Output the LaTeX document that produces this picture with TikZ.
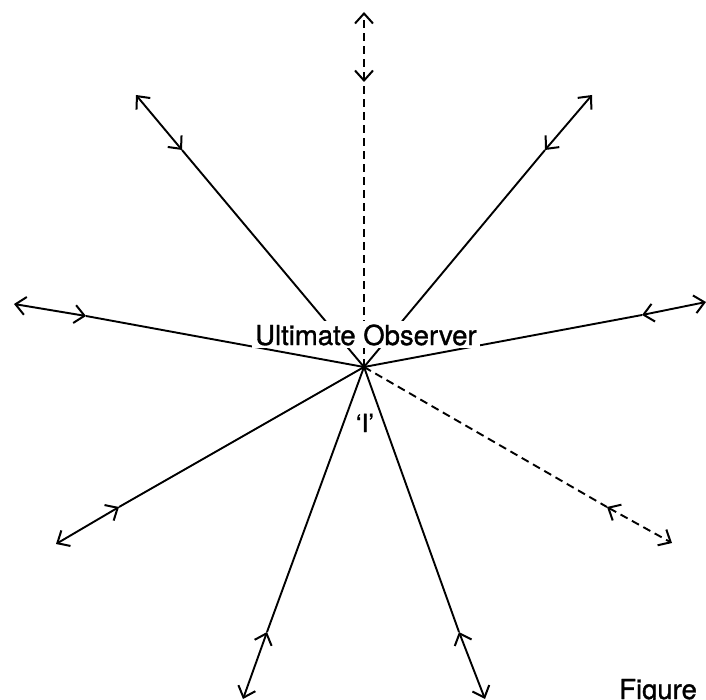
\documentclass[tikz,border=0pt]{standalone}
\usepackage{fontspec}
\setmainfont[FakeBold=1.2]{TeX Gyre Heros}
\usetikzlibrary{arrows.meta}
\begin{document}
\begin{tikzpicture}[x=1pt,y=-1pt,
  ray/.style={line width=1.9pt, black, line cap=butt},
  tipped/.style={ray, {Straight Barb[length=10pt,width=18pt,line width=2pt]}-{Straight Barb[length=10pt,width=18pt,line width=2pt]}},
  dashray/.style={dash pattern=on 8pt off 5pt},
  lbl/.style={font=\fontsize{27.5}{30}\selectfont, inner sep=3pt, fill=white},
  small/.style={font=\fontsize{25}{28}\selectfont, inner sep=0pt}]
\useasboundingbox (0,0) rectangle (706,700);
\coordinate (C) at (364,367);
% mid points and tips
\coordinate (mU) at (364,82);   \coordinate (tU) at (364,12);
\coordinate (mUL) at (182,150); \coordinate (tUL) at (136,95);
\coordinate (mUR) at (545,150); \coordinate (tUR) at (592,95);
\coordinate (mL) at (86,316);   \coordinate (tL) at (14,304);
\coordinate (mR) at (642,315);  \coordinate (tR) at (706,302);
\coordinate (mLL) at (119,507); \coordinate (tLL) at (56,544);
\coordinate (mLR) at (607,507); \coordinate (tLR) at (672,543);
\coordinate (mBL) at (267,632); \coordinate (tBL) at (243,699);
\coordinate (mBR) at (459,632); \coordinate (tBR) at (485,699);
% solid rays
\foreach \n in {UL,UR,L,R,LL,BL,BR}{
  \draw[ray] (C) -- (m\n);
  \draw[tipped] (m\n) -- (t\n);
}
% dashed rays
\foreach \n in {U,LR}{
  \draw[ray,dashray] (C) -- (m\n);
  \draw[tipped,dashray] (m\n) -- (t\n);
}
\node[lbl, anchor=base west] (obs) at (252,345) {Ultimate Observer};
\node[small, anchor=base] (I) at (365,432) {‘I’};
\node[lbl, fill=none, inner sep=0pt, anchor=base west] (fig) at (619,699) {Figure 1};
\end{tikzpicture}
\end{document}
